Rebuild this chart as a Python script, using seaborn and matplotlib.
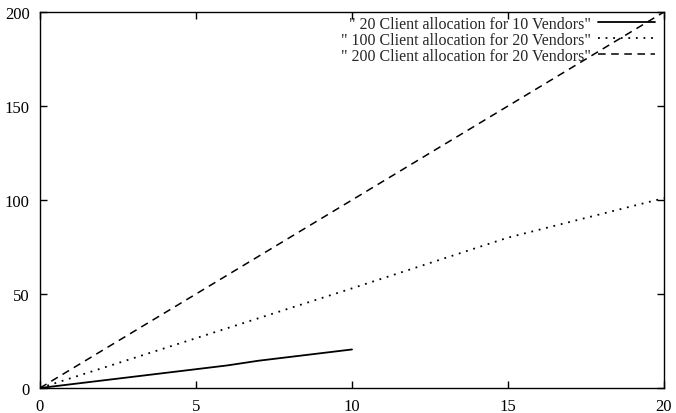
import matplotlib
matplotlib.use("Agg")
import matplotlib.pyplot as plt
import seaborn as sns
import pandas as pd

# Data
x_20c10v = [0, 1, 2, 3, 4, 5, 6, 7, 8, 9, 10]
y_20c10v = [0, 2, 4, 6, 8, 10, 12, 14.5, 16.5, 18.5, 20.5]

x_100c20v = [0, 5, 10, 15, 20]
y_100c20v = [0, 26.5, 53, 80, 101]

x_200c20v = [0, 5, 10, 15, 20]
y_200c20v = [0, 50, 100, 150, 200]

labels = ['" 20 Client allocation for 10 Vendors"',
          '" 100 Client allocation for 20 Vendors"',
          '" 200 Client allocation for 20 Vendors"']
xticks = [0, 5, 10, 15, 20]
yticks = [0, 50, 100, 150, 200]

sns.set_style("white")
plt.rcParams['font.family'] = ['Liberation Serif', 'DejaVu Serif']

fig = plt.figure(figsize=(6.76, 4.14), dpi=100)
ax = fig.add_axes([40/676, 1-389/414, 624/676, 376/414])

df1 = pd.DataFrame({"x": x_20c10v, "y": y_20c10v})
df2 = pd.DataFrame({"x": x_100c20v, "y": y_100c20v})
df3 = pd.DataFrame({"x": x_200c20v, "y": y_200c20v})

sns.lineplot(data=df1, x="x", y="y", ax=ax, color="black", lw=1.3,
             label=labels[0])
sns.lineplot(data=df2, x="x", y="y", ax=ax, color="black", lw=1.3,
             linestyle=(0, (1, 3.2)), label=labels[1])
sns.lineplot(data=df3, x="x", y="y", ax=ax, color="black", lw=1.1,
             linestyle=(0, (5, 3.6)), label=labels[2])

ax.set_xlim(0, 20)
ax.set_ylim(0, 200)
ax.set_xticks(xticks)
ax.set_yticks(yticks)
ax.set_xlabel("")
ax.set_ylabel("")
for s in ax.spines.values():
    s.set_color("black")
    s.set_linewidth(1.0)
ax.tick_params(direction="in", length=5, width=1, top=True, right=True,
               bottom=True, left=True, labelsize=12, colors="black")
ax.tick_params(axis="x", pad=7.5)
ax.tick_params(axis="y", pad=7.5)

leg = ax.legend(loc="upper right", bbox_to_anchor=(0.992, 1.0), frameon=False,
                markerfirst=False, fontsize=11.5, handlelength=3.6,
                labelspacing=0.0, handletextpad=0.4, borderaxespad=0.1,
                borderpad=0.15)
for t in leg.get_texts():
    t.set_ha("right")

fig.savefig("out.png", dpi=100)
